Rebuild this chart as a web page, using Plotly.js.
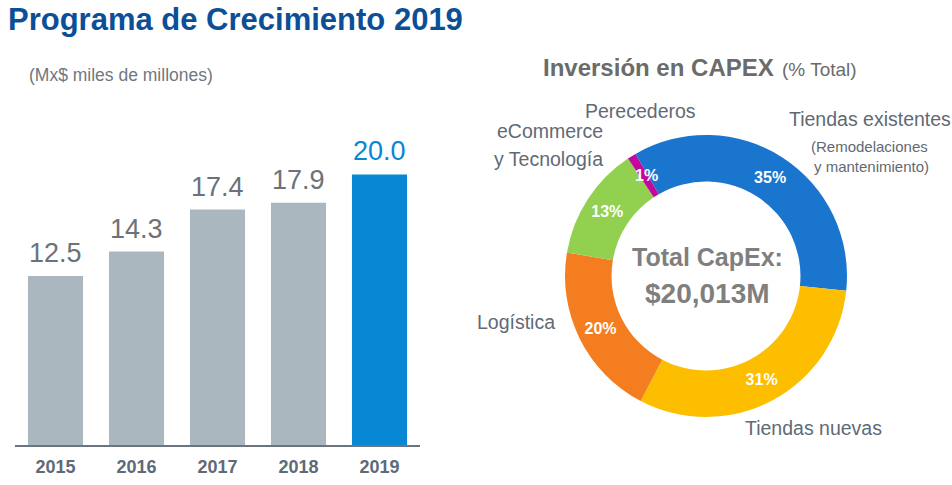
<!DOCTYPE html>
<html>
<head>
<meta charset="utf-8">
<script src="https://cdn.plot.ly/plotly-3.0.1.min.js"></script>
<style>
  html, body { margin: 0; padding: 0; background: #fff; }
  #chart { width: 952px; height: 485px; }
</style>
</head>
<body>
<div id="chart"></div>
<script>
// bar chart: growth programme
var years = ['2015', '2016', '2017', '2018', '2019'];
var amounts = [12.5, 14.3, 17.4, 17.9, 20.0];
var barColors = ['#abb7bf', '#abb7bf', '#abb7bf', '#abb7bf', '#0787d4'];
var labelColors = ['#6b7279', '#6b7279', '#6b7279', '#6b7279', '#0787d4'];

// donut: capex split
var capexNames = ['Tiendas existentes', 'Tiendas nuevas', 'Logística', 'eCommerce y Tecnología', 'Perecederos'];
var capexShare = [35, 31, 20, 13, 1];
var capexColors = ['#1a75cf', '#fdbe00', '#f47d20', '#92d050', '#c3089e'];

var W = 952, H = 485;
var sans = 'Liberation Sans, Arial, sans-serif';
var labelGray = '#5f6a75';

// donut placement (paper fractions)
var pieX = [0.5935, 0.8897], pieY = [0.1402, 0.7216], hole = 0.67, rotation = 330;

var bars = {
  type: 'bar',
  x: years,
  y: amounts,
  width: 0.68,
  marker: {color: barColors},
  hoverinfo: 'x+y',
  showlegend: false
};

var donut = {
  type: 'pie',
  labels: capexNames,
  values: capexShare,
  text: capexShare.map(function (v) { return v + '%'; }),
  textinfo: 'text',
  // the 1% slice is too thin for plotly to keep its label inside; it gets an annotation below
  textposition: capexShare.map(function (v) { return v < 5 ? 'none' : 'inside'; }),
  insidetextorientation: 'horizontal',
  insidetextfont: {family: sans, size: 16, color: '#ffffff', weight: 'bold'},
  hole: hole,
  sort: false,
  direction: 'clockwise',
  rotation: rotation,
  marker: {colors: capexColors, line: {width: 0}},
  domain: {x: pieX, y: pieY},
  showlegend: false
};

var annotations = [];

// value labels above bars (x as category index)
years.forEach(function (yr, i) {
  annotations.push({
    x: i, y: amounts[i], xref: 'x', yref: 'y',
    text: amounts[i].toFixed(1),
    showarrow: false, yanchor: 'bottom', yshift: 6,
    font: {family: sans, size: 27, color: labelColors[i]}
  });
});

function paperText(txt, x, y, anchor, font) {
  annotations.push({
    xref: 'paper', yref: 'paper',
    x: x / W, y: 1 - y / H,
    xanchor: anchor, yanchor: 'middle',
    text: txt, showarrow: false, font: font
  });
}

// labels of thin slices, placed at the slice middle
(function () {
  var total = capexShare.reduce(function (a, b) { return a + b; }, 0);
  var cx = (pieX[0] + pieX[1]) / 2 * W;
  var cy = (1 - (pieY[0] + pieY[1]) / 2) * H;
  var rOut = Math.min((pieX[1] - pieX[0]) * W, (pieY[1] - pieY[0]) * H) / 2;
  var rMid = rOut * (1 + hole) / 2;
  var cum = 0;
  capexShare.forEach(function (v) {
    var mid = (rotation + (cum + v / 2) / total * 360) * Math.PI / 180;
    cum += v;
    if (v >= 5) return;
    paperText('<b>' + v + '%</b>', cx + rMid * Math.sin(mid) + 3, cy - rMid * Math.cos(mid), 'center',
      {family: sans, size: 16, color: '#ffffff'});
  });
})();

paperText('<b>Programa de Crecimiento 2019</b>', 6, 20, 'left', {family: sans, size: 31, color: '#0b4f96'});
paperText('(Mx$ miles de millones)', 27, 75, 'left', {family: sans, size: 17.5, color: '#6f7780'});

paperText('<b>Inversión en CAPEX</b>', 776, 68, 'right', {family: sans, size: 24, color: '#6b6b6b'});
paperText('(% Total)', 780, 70, 'left', {family: sans, size: 19, color: '#6b6b6b'});

var outFont = {family: sans, size: 19.5, color: labelGray};
paperText('Perecederos', 640, 111, 'center', outFont);
paperText('eCommerce', 605, 131, 'right', outFont);
paperText('y Tecnología', 605, 159, 'right', outFont);
paperText('Tiendas existentes', 870, 119, 'center', outFont);
paperText('(Remodelaciones', 869, 146, 'center', {family: sans, size: 15, color: labelGray});
paperText('y mantenimiento)', 871, 166, 'center', {family: sans, size: 15, color: labelGray});
paperText('Logística', 516, 322, 'center', outFont);
paperText('Tiendas nuevas', 813, 428, 'center', outFont);

paperText('<b>Total CapEx:</b>', 707, 257, 'center', {family: sans, size: 25, color: '#7f7f7f'});
paperText('<b>$20,013M</b>', 707, 293, 'center', {family: sans, size: 28, color: '#7f7f7f'});

var layout = {
  width: W,
  height: H,
  margin: {l: 0, r: 0, t: 0, b: 0},
  paper_bgcolor: '#ffffff',
  plot_bgcolor: 'rgba(0,0,0,0)',
  xaxis: {
    domain: [15 / W, 420 / W],
    type: 'category',
    showline: true,
    linecolor: '#6b7580',
    linewidth: 2,
    ticks: '',
    showgrid: false,
    zeroline: false,
    tickfont: {family: sans, size: 18, color: '#5e6a77', weight: 'bold'},
    ticklabelstandoff: 4,
    fixedrange: true
  },
  yaxis: {
    domain: [40 / H, 385 / H],
    range: [0, 25.5],
    visible: false,
    showgrid: false,
    zeroline: false,
    fixedrange: true
  },
  annotations: annotations
};

Plotly.newPlot('chart', [bars, donut], layout, {displayModeBar: false, staticPlot: true});
</script>
</body>
</html>
